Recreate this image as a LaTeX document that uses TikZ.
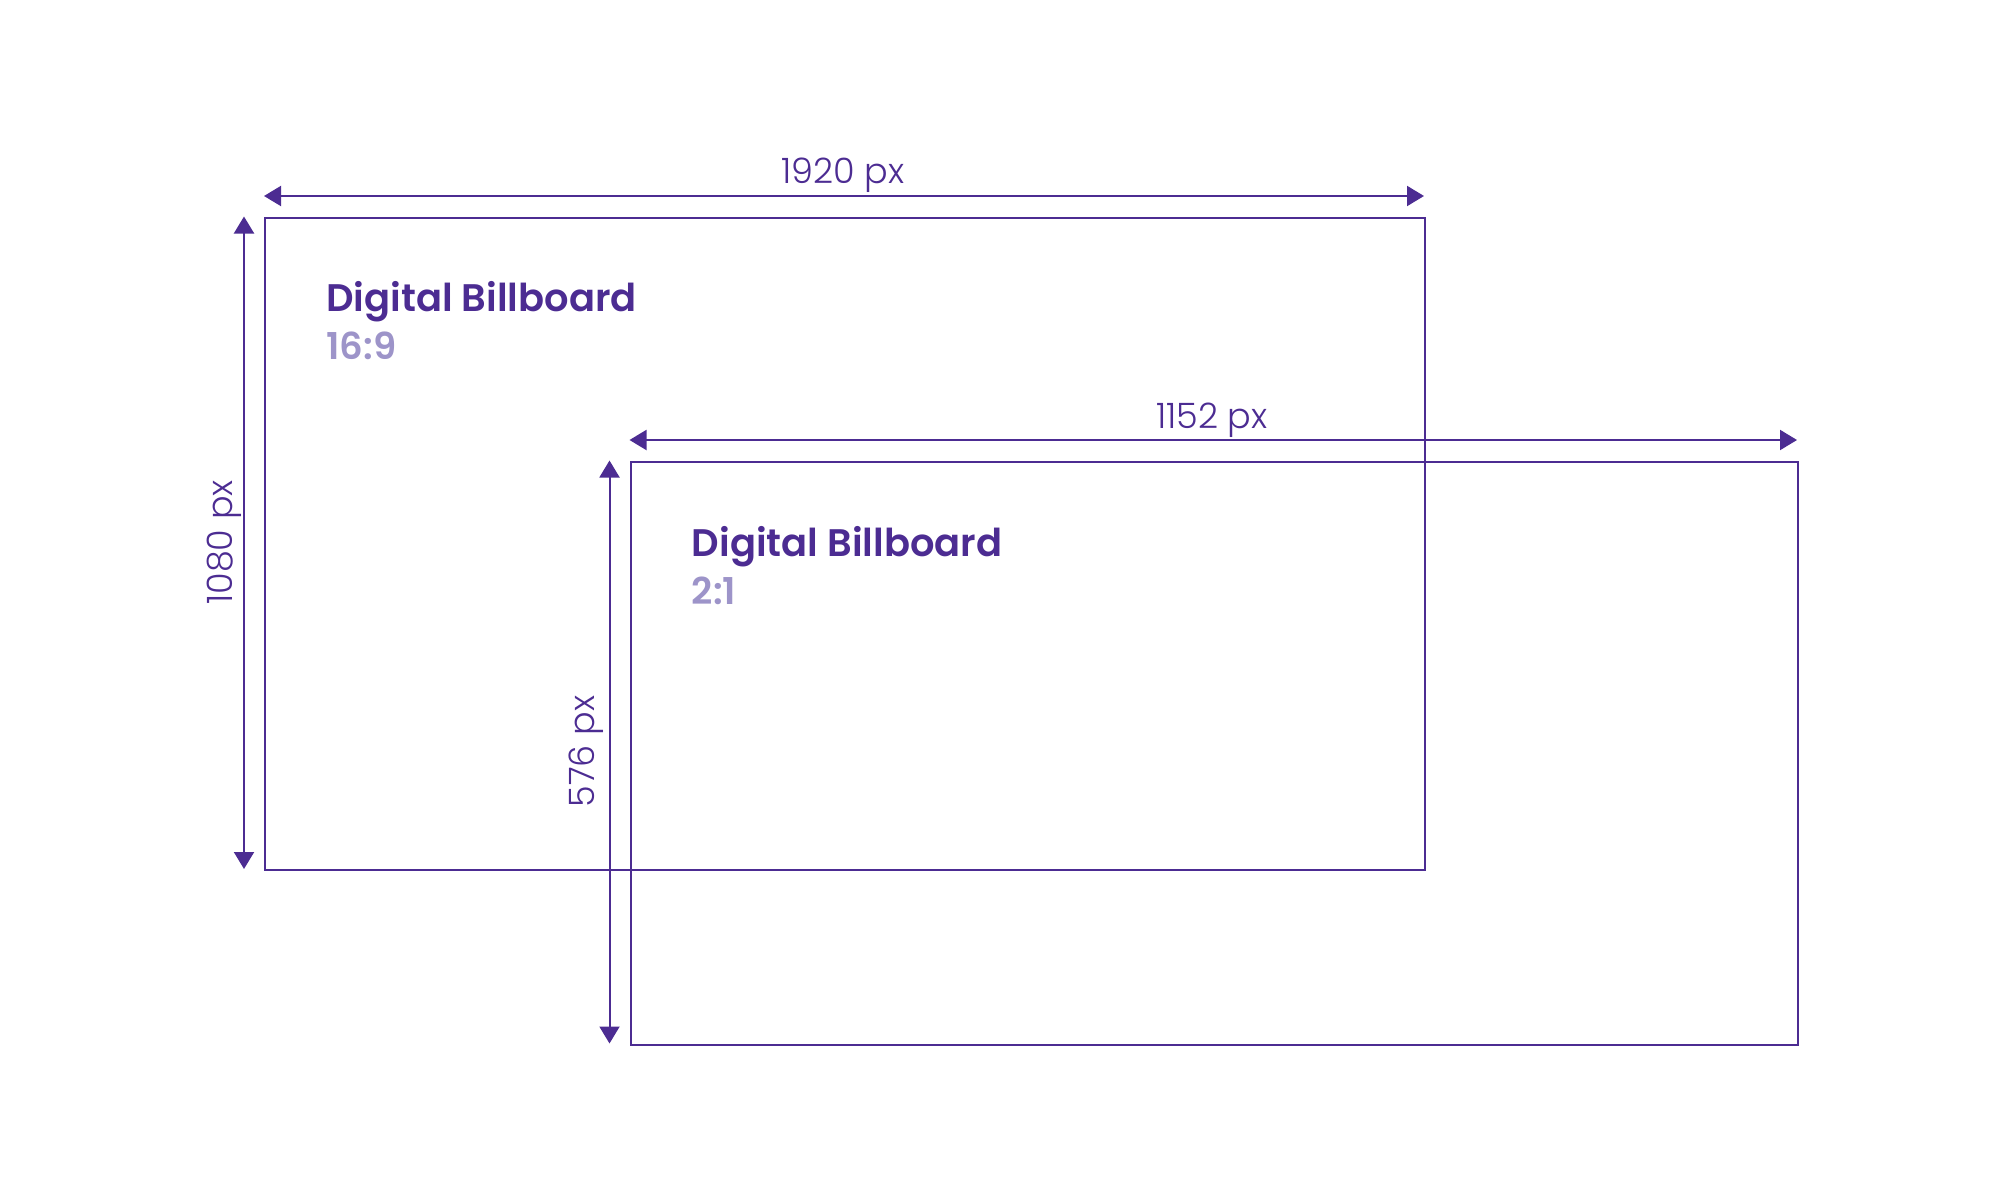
\documentclass[tikz,border=0pt]{standalone}
\usepackage{fontspec}
\setmainfont{Poppins}
\newfontfamily\dimfont{Poppins Light}
\newfontfamily\titlefont{Poppins SemiBold}
\usetikzlibrary{arrows.meta}
\definecolor{dpurple}{RGB}{76,44,146}
\definecolor{lpurple}{RGB}{157,148,201}
\tikzset{
  board/.style={draw=dpurple, line width=2pt, inner sep=0pt, anchor=north west},
  dimline/.style={draw=dpurple, line width=2pt, {Triangle[length=17pt,width=20pt]}-{Triangle[length=17pt,width=20pt]}},
  dimlabel/.style={text=dpurple, font=\dimfont\fontsize{35}{40}\selectfont, inner sep=0pt},
  title/.style={text=dpurple, font=\titlefont\fontsize{38.4}{44}\selectfont, inner sep=0pt, anchor=base west},
  ratio/.style={text=lpurple, font=\titlefont\fontsize{37}{44}\selectfont, inner sep=0pt, anchor=base west}
}
\begin{document}
\begin{tikzpicture}[x=1pt,y=-1pt]
\useasboundingbox (0,0) rectangle (2001,1201);
% boards
\node[board, minimum width=1160pt, minimum height=652.5pt] (r1) at (264,216.5) {};
\node[board, minimum width=1167.5pt, minimum height=583pt] (r2) at (629.5,460.5) {};
% dimension endpoints
\coordinate (h1a) at (264,196);
\coordinate (h1b) at (1424,196);
\coordinate (v1a) at (244,216.5);
\coordinate (v1b) at (244,869);
\coordinate (h2a) at (629.5,440);
\coordinate (h2b) at (1797,440);
\coordinate (v2a) at (609.5,460.5);
\coordinate (v2b) at (609.5,1043.5);
\draw[dimline] (h1a) -- (h1b);
\draw[dimline] (v1a) -- (v1b);
\draw[dimline] (h2a) -- (h2b);
\draw[dimline] (v2a) -- (v2b);
% dimension labels
\node[dimlabel, anchor=base] (l1) at (843,184) {1920 px};
\node[dimlabel, anchor=base] (l2) at (1212,428) {1152 px};
\node[dimlabel, anchor=base, rotate=90] (l3) at (232,542.5) {1080 px};
\node[dimlabel, anchor=base, rotate=90] (l4) at (594,751.5) {576 px};
% titles
\node[title] (t1) at (326,311.7) {Digital Billboard};
\node[ratio] (q1) at (326,359) {16:9};
\node[title] (t2) at (691.7,556.7) {Digital Billboard};
\node[ratio] (q2) at (691.7,604) {2:1};
\end{tikzpicture}
\end{document}
